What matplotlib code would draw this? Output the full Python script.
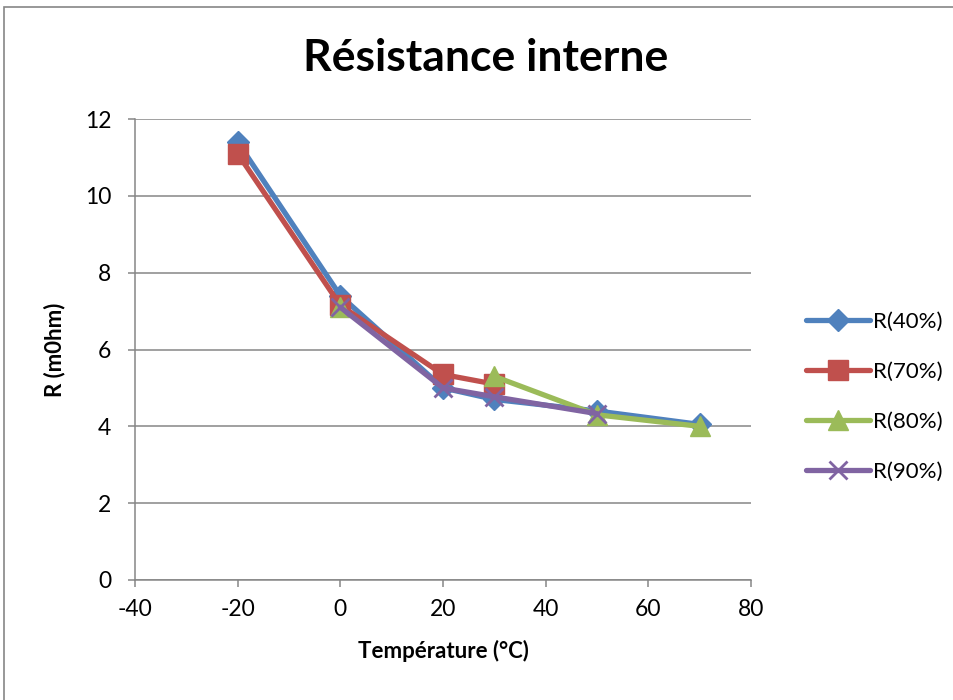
import numpy as np
import matplotlib
matplotlib.use("Agg")
import matplotlib.pyplot as plt
from matplotlib.patches import Rectangle

plt.rcParams['font.family'] = ['Lato', 'DejaVu Sans']
plt.rcParams['axes.unicode_minus'] = False

temperatures = [-20, 0, 20, 30, 50, 70]
r40 = [11.4, 7.4, 5.0, 4.7, 4.4, 4.05]
r70 = [11.1, 7.15, 5.35, 5.1, np.nan, np.nan]
r80 = [np.nan, 7.1, np.nan, 5.3, 4.3, 4.0]
r90 = [np.nan, 7.1, 5.0, 4.77, 4.33, np.nan]
series_names = ["R(40%)", "R(70%)", "R(80%)", "R(90%)"]
x_ticks = [-40, -20, 0, 20, 40, 60, 80]
y_ticks = [0, 2, 4, 6, 8, 10, 12]

fig = plt.figure(figsize=(9.54, 7.0), dpi=100)
fig.patches.append(Rectangle((4/954, -0.1), 1.2, 1.1 - 7/700, transform=fig.transFigure,
                             fill=False, edgecolor='#868686', linewidth=1.2))
ax = fig.add_axes([135/954, 1 - 580/700, (751 - 135)/954, (580 - 119)/700])

styles = [
    dict(color='#4F81BD', marker='D', markersize=11),
    dict(color='#C0504D', marker='s', markersize=14),
    dict(color='#9BBB59', marker='^', markersize=14),
    dict(color='#8064A2', marker='x', markersize=13, markeredgewidth=2),
]
data = [r40, r70, r80, r90]
for name, vals, st in zip(series_names, data, styles):
    ax.plot(temperatures, vals, linewidth=3.8, label=name, solid_capstyle='round',
            zorder=3, **st)

ax.set_xlim(-40, 80)
ax.set_ylim(0, 12)
ax.set_xticks(x_ticks)
ax.set_yticks(y_ticks)
ax.yaxis.grid(True, color='#868686', linewidth=1.1)
ax.set_axisbelow(True)
for s in ['top', 'right']:
    ax.spines[s].set_visible(False)
for s in ['left', 'bottom']:
    ax.spines[s].set_color('#868686')
    ax.spines[s].set_linewidth(1.1)
ax.tick_params(axis='both', colors='#868686', labelcolor='black', labelsize=16.5,
               length=5, width=1.1)
ax.tick_params(axis='x', pad=9)
ax.tick_params(axis='y', pad=12)

ax.set_xlabel("Température (°C)", fontsize=16, fontweight='bold', labelpad=14)
ax.set_ylabel("R (m0hm)", fontsize=16, fontweight='bold', labelpad=14)
fig.text(486/954, 1 - 58/700, "Résistance interne", fontsize=32, fontweight='bold',
         ha='center', va='center')

leg = ax.legend(loc='center left', bbox_to_anchor=(797/954, 1 - 397/700),
                bbox_transform=fig.transFigure, frameon=False, fontsize=16,
                handlelength=2.9, labelspacing=1.35, handletextpad=0.1, borderaxespad=0)

fig.savefig("out.png", dpi=100)
